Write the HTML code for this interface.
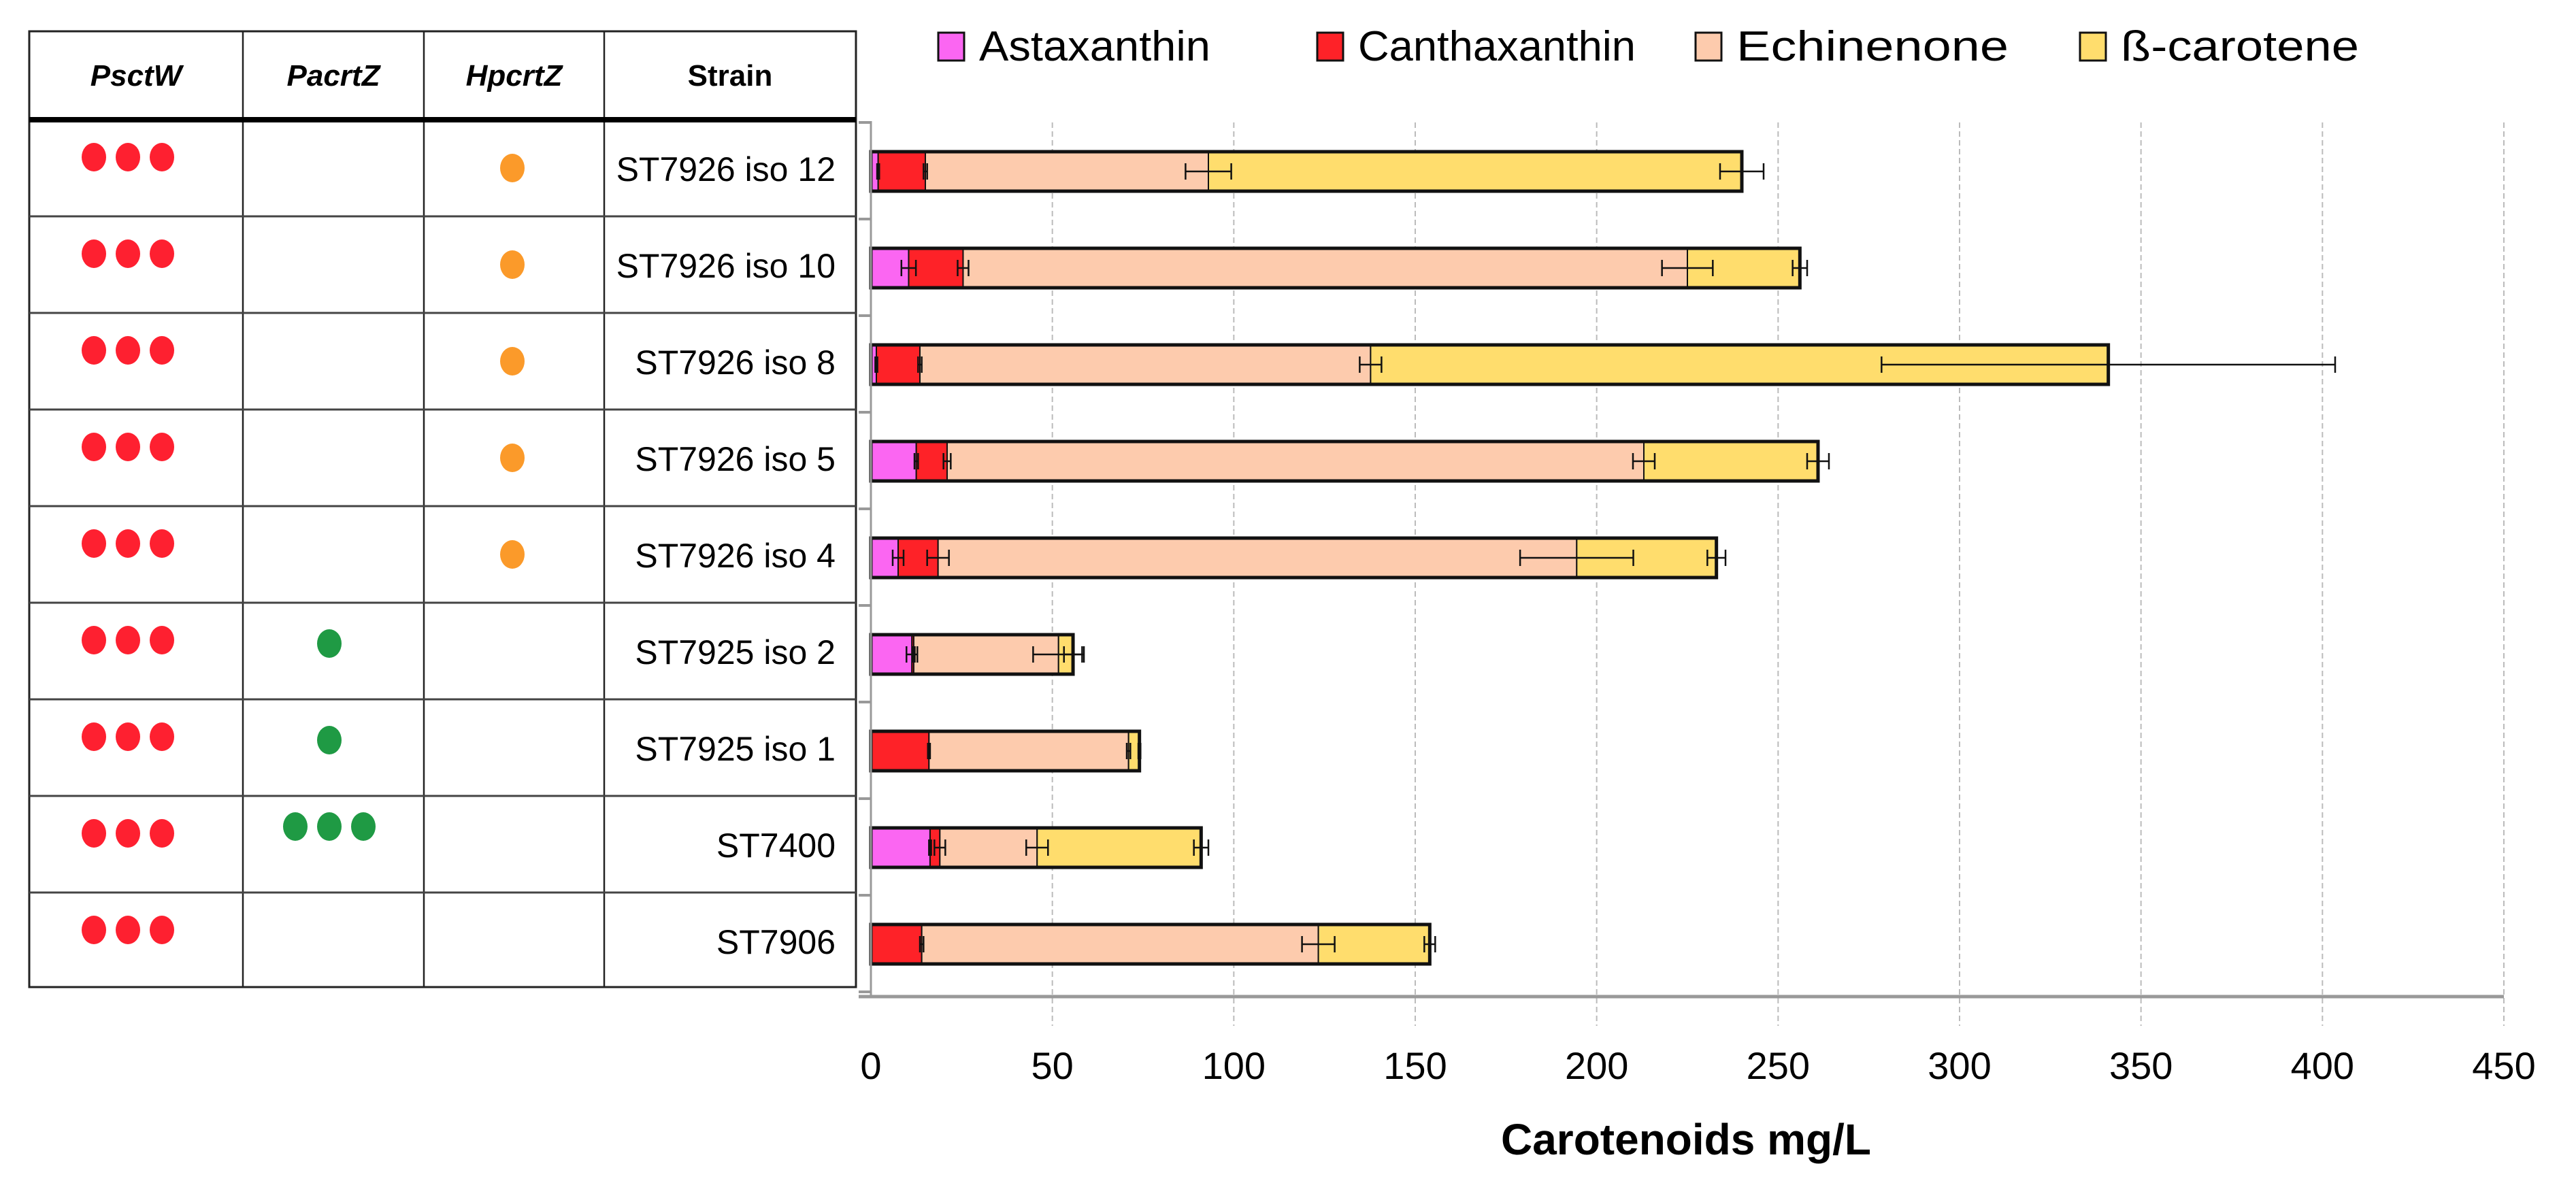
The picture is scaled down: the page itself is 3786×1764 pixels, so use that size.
<!DOCTYPE html>
<html><head><meta charset="utf-8"><style>
html,body{margin:0;padding:0;background:#fff}
svg{display:block}
text{font-family:"Liberation Sans",sans-serif}
</style></head><body>
<svg id="c" width="3786" height="1764" viewBox="0 0 3786 1764" xmlns="http://www.w3.org/2000/svg">
<g id="table"></g>
<g id="grid"></g>
<g id="bars"></g>
<g id="axes"></g>
<g id="legend"></g>
</svg>
<script>
const strains = ["ST7926 iso 12","ST7926 iso 10","ST7926 iso 8","ST7926 iso 5","ST7926 iso 4","ST7925 iso 2","ST7925 iso 1","ST7400","ST7906"];
const astaxanthin = [2,10.4,1.5,12.5,7.5,11.3,0,16.3,0];
const canthaxanthin = [13,15,12,8.5,11,0.5,16,2.7,14];
const echinenone = [78,199.6,124.2,192,176,39.9,55,26.8,109.3];
const betaCarotene = [147,31,203.3,48,38.5,4,3,45.2,30.7];
const astaErr = [0,2,0,0.5,1.5,1.5,0,0,0];
const canthaErr = [0.5,1.5,0.5,1,3,0,0,1.5,0.5];
const echinErr = [6.3,7,3,3,15.6,7,0.5,3,4.5];
const betaErr = [6,2,62.5,3,2.5,2.5,0,2,1.5];
const xTicks = [0,50,100,150,200,250,300,350,400,450];
const pscwDots = [3,3,3,3,3,3,3,3,3];
const pacrtzDots = [0,0,0,0,0,1,1,3,0];
const hpcrtzDots = [1,1,1,1,1,0,0,0,0];
const seriesNames = ["Astaxanthin","Canthaxanthin","Echinenone","ß-carotene"];

const NS="http://www.w3.org/2000/svg";
function mk(tag,attrs,parent){const e=document.createElementNS(NS,tag);for(const k in attrs)e.setAttribute(k,attrs[k]);parent.appendChild(e);return e;}
const X0=1280, X1=3680, VMAX=450;
function xs(v){return X0+v*(X1-X0)/VMAX;}
const TOP=176, RH=142;
function rowTop(i){return TOP+i*RH;}
const AXY=1465;

const colors=["#fb66f2","#fe2228","#fdcbad","#ffdd6d"];
const segs=[astaxanthin,canthaxanthin,echinenone,betaCarotene];
const errs=[astaErr,canthaErr,echinErr,betaErr];

// table
const T=document.getElementById('table');
const colX=[43,357,623,888,1258];
let r=mk('rect',{x:43,y:46,width:1215,height:1405,fill:'none',stroke:'#222','stroke-width':3},T);

for(let c=1;c<4;c++){let l=mk('line',{x1:colX[c],y1:46,x2:colX[c],y2:1451,stroke:'#222','stroke-width':2.5},T);
}
let hl=mk('line',{x1:43,y1:176,x2:1258,y2:176,stroke:'#000','stroke-width':8},T);

for(let i=1;i<9;i++){let l=mk('line',{x1:43,y1:rowTop(i),x2:1258,y2:rowTop(i),stroke:'#444','stroke-width':3},T);
}
const heads=["PsctW","PacrtZ","HpcrtZ","Strain"];
heads.forEach((h,c)=>{const t=mk('text',{x:(colX[c]+colX[c+1])/2,y:126,'text-anchor':'middle','font-size':44,'font-weight':'bold','font-style':c<3?'italic':'normal'},T);
t.textContent=h;});
function dots(n,cx,cy,col,gap){for(let k=0;k<n;k++){const d=mk('ellipse',{cx:cx+(k-(n-1)/2)*gap,cy:cy,rx:18,ry:21,fill:col},T);
}}
strains.forEach((s,i)=>{
  const yt=rowTop(i);
  dots(pscwDots[i],188,yt+55,'#fe2030',50);
  dots(pacrtzDots[i],484,pacrtzDots[i]===3?yt+45:yt+60,'#1f9a44',50);
  dots(hpcrtzDots[i],753,yt+71,'#fb9a2a',50);
  const t=mk('text',{x:1228,y:yt+90,'text-anchor':'end','font-size':50},T);
  t.textContent=s;
});

// grid
const G=document.getElementById('grid');
xTicks.forEach(v=>{if(v===0)return;const l=mk('line',{x1:xs(v),y1:180,x2:xs(v),y2:1508,stroke:'#bbb','stroke-width':2,'stroke-dasharray':'8,5'},G);
});

// bars
const B=document.getElementById('bars');
strains.forEach((s,i)=>{
  const cy=rowTop(i)+76, h=58;
  let cum=0; const ends=[];
  segs.forEach((arr,k)=>{const a=cum;cum+=arr[i];ends.push(cum);
    if(arr[i]<=0)return;
    const rr=mk('rect',{x:xs(a),y:cy-h/2,width:xs(cum)-xs(a),height:h,fill:colors[k],stroke:'#111','stroke-width':2},B);
    });
  const o=mk('rect',{x:xs(0),y:cy-h/2,width:xs(cum)-xs(0),height:h,fill:'none',stroke:'#111','stroke-width':5},B);
  
  errs.forEach((e,k)=>{if(segs[k][i]<=0)return;const v=ends[k],ev=Math.max(e[i],0.3);
    const g=mk('path',{d:`M${xs(v-ev)},${cy}H${xs(v+ev)}M${xs(v-ev)},${cy-12}V${cy+12}M${xs(v+ev)},${cy-12}V${cy+12}`,stroke:'#111','stroke-width':2.5,fill:'none'},B);
    });
});

// axes
const A=document.getElementById('axes');
let ax=mk('line',{x1:1262,y1:AXY,x2:X1,y2:AXY,stroke:'#999','stroke-width':5},A);

let ay=mk('line',{x1:X0,y1:178,x2:X0,y2:AXY,stroke:'#999','stroke-width':3},A);

for(let i=0;i<=9;i++){const l=mk('line',{x1:1262,y1:rowTop(i)+4,x2:X0,y2:rowTop(i)+4,stroke:'#999','stroke-width':4},A);
}
xTicks.forEach(v=>{const t=mk('text',{x:xs(v),y:1586,'text-anchor':'middle','font-size':56},A);
t.textContent=String(v);});
const tt=mk('text',{x:2478,y:1697,'text-anchor':'middle','font-size':64,'font-weight':'bold'},A);
tt.textContent="Carotenoids mg/L";

// legend
const L=document.getElementById('legend');
const lx=[1379,1936,2492,3057], tl=[340,408,400,350];
seriesNames.forEach((n,k)=>{
  const b=mk('rect',{x:lx[k],y:48,width:38,height:41,fill:colors[k],stroke:'#111','stroke-width':3},L);
  
  const t=mk('text',{x:lx[k]+60,y:89,'font-size':62,textLength:tl[k],lengthAdjust:'spacingAndGlyphs'},L);
  t.textContent=n;
});
</script>
</body></html>
